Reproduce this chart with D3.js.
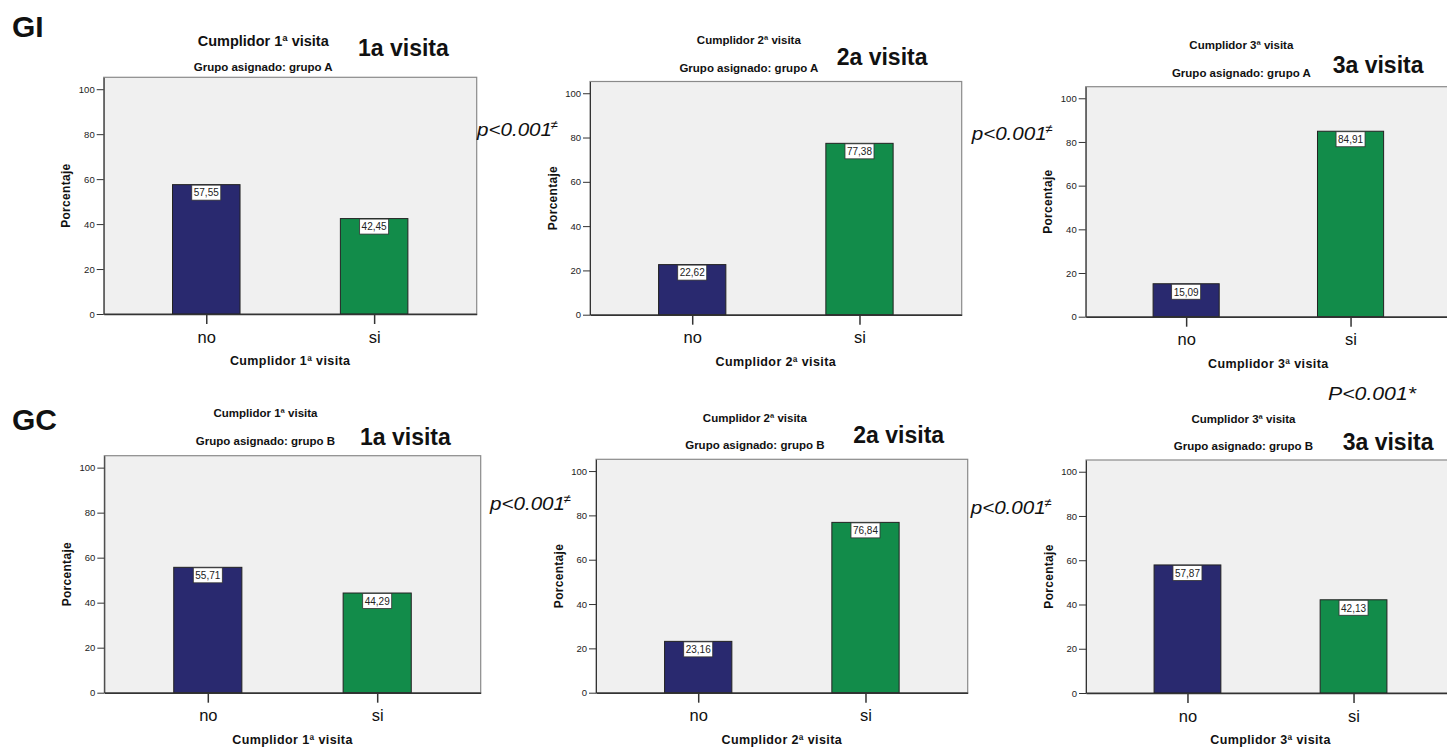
<!DOCTYPE html>
<meta charset="utf-8">
<style>
    body { margin: 0; background: #fff; }
    text { font-family: "Liberation Sans", Arial, sans-serif; fill: #111; }
    .frame { fill: #f0f0f0; stroke: #8a8a8a; stroke-width: 1.2px; }
    .axis--y path, .axis--y line { stroke: #333; }
    .axis--x path { stroke: #333; stroke-width: 1.5px; }
    .axis--x line { stroke: #333; stroke-width: 1.5px; }
    .axis--y text { font-size: 9.5px; fill: #222; }
    .axis--x text { font-size: 16.5px; fill: #111; }
    .bar { stroke: #222; stroke-width: 1px; }
    .vbox { fill: #fff; stroke: #333; stroke-width: 0.8px; }
    .vlab { font-size: 10px; fill: #222; }
    .ttl { font-weight: bold; }
</style>
<body>
<svg width="1447" height="747"></svg>
<script src="https://cdnjs.cloudflare.com/ajax/libs/d3/7.8.5/d3.min.js"></script>
<script>

    // data
    var grupos = ["GI", "GC"];
    var grupoNombre = ["grupo A", "grupo B"];
    var visitas = ["1ª", "2ª", "3ª"];
    var visitaEtiqueta = ["1a visita", "2a visita", "3a visita"];
    var categorias = ["no", "si"];
    var valoresGI = [[57.55, 42.45], [22.62, 77.38], [15.09, 84.91]];
    var valoresGC = [[55.71, 44.29], [23.16, 76.84], [57.87, 42.13]];
    var yTicks = [0, 20, 40, 60, 80, 100];
    var pEntreVisitas = ["p<0.001", "p<0.001", "p<0.001", "p<0.001"];
    var pFinal = "P<0.001*";

    var colores = ["#29296f", "#128c4a"];

    // panel layout (left, right, top, bottom of the plot frame)
    var layout = [
        {l: 103.7, r: 476.7, t: 77.3, b: 314, tSize: 14.5, tOff: 31.5, sOff: 6.5, lx: 358, ly: 56},
        {l: 590, r: 961.7, t: 81.5, b: 314.7, tSize: 11.5, tOff: 37.5, sOff: 10, lx: 836.7, ly: 65},
        {l: 1085.7, r: 1451, t: 86.7, b: 316.7, tSize: 11.5, tOff: 37.5, sOff: 10, lx: 1332.7, ly: 72.7},
        {l: 104.3, r: 480.7, t: 455.7, b: 692.7, tSize: 11.5, tOff: 38.4, sOff: 10.7, lx: 360, ly: 445},
        {l: 596, r: 967.7, t: 459.3, b: 692.7, tSize: 11.5, tOff: 37.6, sOff: 10, lx: 853.3, ly: 442.7},
        {l: 1086, r: 1455, t: 460, b: 693, tSize: 11.5, tOff: 36.7, sOff: 10, lx: 1342.7, ly: 450}
    ];

    var svg = d3.select("svg");
    var fmt = function (v) { return d3.format(".2f")(v).replace(".", ","); };

    var panels = [];
    grupos.forEach(function (g, gi) {
        var vals = gi === 0 ? valoresGI : valoresGC;
        visitas.forEach(function (v, vi) {
            panels.push({grupo: gi, visita: vi, values: vals[vi], box: layout[gi * 3 + vi]});
        });
    });

    panels.forEach(function (p) {
        var L = p.box;
        var W = L.r - L.l;
        var g = svg.append("g");

        var x = d3.scalePoint().domain(categorias).range([L.l, L.r]).padding(0.611);
        var y = d3.scaleLinear().domain([0, 105.3]).range([L.b, L.t]);
        var bw = W * 0.181;

        g.append("rect").attr("class", "frame")
            .attr("x", L.l).attr("y", L.t)
            .attr("width", W).attr("height", L.b - L.t);

        g.selectAll(".bar").data(p.values).enter().append("rect")
            .attr("class", "bar")
            .attr("x", function (d, i) { return x(categorias[i]) - bw / 2; })
            .attr("y", function (d) { return y(d); })
            .attr("width", bw)
            .attr("height", function (d) { return y(0) - y(d); })
            .attr("fill", function (d, i) { return colores[i]; });

        // value labels
        var lab = g.selectAll(".vl").data(p.values).enter().append("g").attr("class", "vl");
        lab.append("rect").attr("class", "vbox")
            .attr("x", function (d, i) { return x(categorias[i]) - 14.5; })
            .attr("y", function (d) { return y(d) + 0.5; })
            .attr("width", 29).attr("height", 15);
        lab.append("text").attr("class", "vlab")
            .attr("x", function (d, i) { return x(categorias[i]); })
            .attr("y", function (d) { return y(d) + 11.8; })
            .attr("text-anchor", "middle")
            .text(fmt);

        g.append("g").attr("class", "axis--y")
            .attr("transform", "translate(" + L.l + ",0)")
            .call(d3.axisLeft(y).tickValues(yTicks).tickSize(7).tickPadding(2).tickSizeOuter(0))
            .select(".domain").attr("stroke", "#8a8a8a");

        g.append("g").attr("class", "axis--x")
            .attr("transform", "translate(0," + L.b + ")")
            .call(d3.axisBottom(x).tickSize(10).tickPadding(7).tickSizeOuter(0));

        var nombre = "Cumplidor " + visitas[p.visita] + " visita";

        g.append("text").attr("class", "ttl")
            .attr("x", (L.l + L.r) / 2 - 27).attr("y", L.t - L.tOff)
            .attr("text-anchor", "middle")
            .style("font-size", L.tSize + "px")
            .text(nombre);

        g.append("text").attr("class", "ttl")
            .attr("x", (L.l + L.r) / 2 - 27).attr("y", L.t - L.sOff)
            .attr("text-anchor", "middle")
            .style("font-size", "11.5px")
            .text("Grupo asignado: " + grupoNombre[p.grupo]);

        g.append("text").attr("class", "ttl")
            .attr("x", (L.l + L.r) / 2).attr("y", L.b + 51)
            .attr("text-anchor", "middle")
            .style("font-size", "12.5px")
            .style("letter-spacing", "0.4px")
            .text(nombre);

        g.append("text").attr("class", "ttl")
            .attr("transform", "translate(" + (L.l - 33.5) + "," + ((L.t + L.b) / 2) + ") rotate(-90)")
            .attr("text-anchor", "middle")
            .style("font-size", "12px")
            .style("letter-spacing", "0.3px")
            .text("Porcentaje");

        g.append("text").attr("class", "ttl")
            .attr("x", L.lx).attr("y", L.ly)
            .style("font-size", "23px")
            .text(visitaEtiqueta[p.visita]);
    });

    // group labels
    var grupoPos = [[12, 37], [12, 430]];
    grupos.forEach(function (gname, i) {
        svg.append("text").attr("class", "ttl")
            .attr("x", grupoPos[i][0]).attr("y", grupoPos[i][1])
            .style("font-size", "30px")
            .text(gname);
    });

    // p values between visits
    var pPos = [[477, 136], [971.7, 139.5], [490, 510], [970.7, 514]];
    pEntreVisitas.forEach(function (t, i) {
        var pt = svg.append("g");
        pt.append("text")
            .attr("x", pPos[i][0]).attr("y", pPos[i][1])
            .attr("textLength", 75).attr("lengthAdjust", "spacingAndGlyphs")
            .style("font-size", "17.5px").style("font-style", "italic")
            .text(t);
        pt.append("text")
            .attr("x", pPos[i][0] + 73.5).attr("y", pPos[i][1] - 7)
            .style("font-size", "13px").style("font-style", "italic")
            .text("≠");
    });

    svg.append("text")
        .attr("x", 1328).attr("y", 400)
        .attr("textLength", 88).attr("lengthAdjust", "spacingAndGlyphs")
        .style("font-size", "19px").style("font-style", "italic")
        .text(pFinal);

</script>
</body>
